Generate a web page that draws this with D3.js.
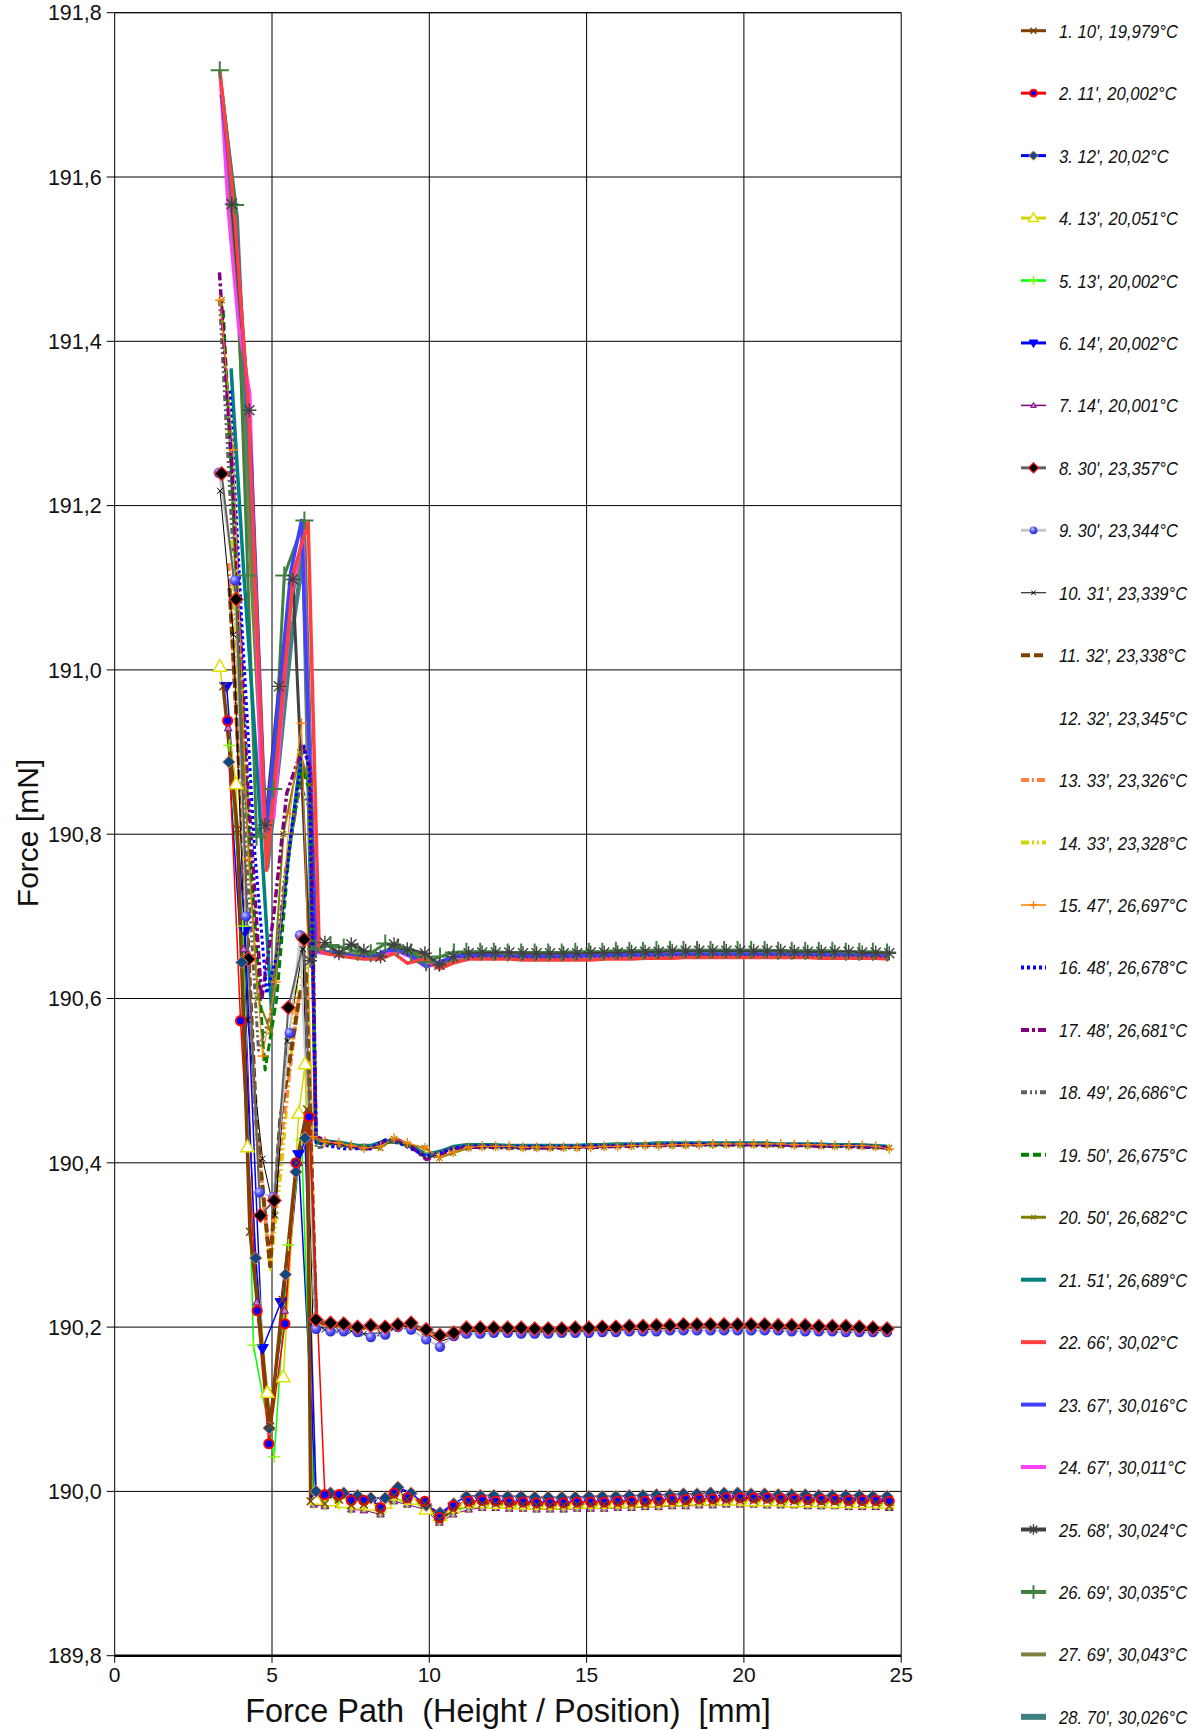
<!DOCTYPE html>
<html>
<head>
<meta charset="utf-8">
<script src="https://cdn.jsdelivr.net/npm/d3@7/dist/d3.min.js"></script>
<style>
html, body { margin: 0; padding: 0; background: #fff; }
svg { display: block; font-family: "Liberation Sans", Arial, sans-serif; }
</style>
</head>
<body>
<svg id="chart" width="1191" height="1730"></svg>
<script>
// ---------- axis ticks ----------
const xTicks = [0, 5, 10, 15, 20, 25];
const xTickLabels = ["0", "5", "10", "15", "20", "25"];
const yTicks = [189.8, 190.0, 190.2, 190.4, 190.6, 190.8, 191.0, 191.2, 191.4, 191.6, 191.8];
const yTickLabels = ["189,8", "190,0", "190,2", "190,4", "190,6", "190,8", "191,0", "191,2", "191,4", "191,6", "191,8"];

// ---------- run names ----------
const runLabels = [
  "1. 10', 19,979°C", "2. 11', 20,002°C", "3. 12', 20,02°C", "4. 13', 20,051°C",
  "5. 13', 20,002°C", "6. 14', 20,002°C", "7. 14', 20,001°C", "8. 30', 23,357°C",
  "9. 30', 23,344°C", "10. 31', 23,339°C", "11. 32', 23,338°C", "12. 32', 23,345°C",
  "13. 33', 23,326°C", "14. 33', 23,328°C", "15. 47', 26,697°C", "16. 48', 26,678°C",
  "17. 48', 26,681°C", "18. 49', 26,686°C", "19. 50', 26,675°C", "20. 50', 26,682°C",
  "21. 51', 26,689°C", "22. 66', 30,02°C", "23. 67', 30,016°C", "24. 67', 30,011°C",
  "25. 68', 30,024°C", "26. 69', 30,035°C", "27. 69', 30,043°C", "28. 70', 30,026°C"
];

// ---------- sampling positions on the flat part (mm) ----------
const posA = [6.68,7.13,7.52,7.92,8.45,8.88,9.30,9.86,10.32,10.76,11.25,11.68,12.11,12.54,12.98,13.41,13.84,14.27,14.70,15.13,15.56,15.99,16.43,16.86,17.29,17.72,18.15,18.58,19.01,19.44,19.88,20.31,20.74,21.17,21.60,22.03,22.46,22.89,23.33,23.76,24.19,24.62];
const posB = [6.40,6.86,7.28,7.72,8.14,8.60,9.00,9.42,9.90,10.34,10.78,11.18,11.62,12.05,12.49,12.92,13.35,13.78,14.21,14.64,15.07,15.50,15.93,16.36,16.79,17.22,17.65,18.08,18.51,18.94,19.37,19.80,20.23,20.66,21.09,21.52,21.95,22.38,22.81,23.24,23.67,24.10,24.55];

// ---------- run 1-7 (≈20 °C) ----------
const r01x = [3.45,3.90,4.30,4.94,5.34,5.78,6.12,6.23];
const r01y = [190.98,190.806,190.316,190.079,190.233,190.40,190.465,189.988];
const r01f = [189.985,189.99,189.983,189.984,189.976,189.995,189.99,189.985,189.966,189.978,189.985,189.985,189.985,189.984,189.984,189.983,189.983,189.983,189.984,189.984,189.984,189.985,189.985,189.985,189.986,189.987,189.987,189.988,189.988,189.989,189.989,189.989,189.989,189.988,189.988,189.987,189.987,189.987,189.986,189.986,189.986,189.982];

const r02x = [3.59,4.00,4.53,4.90,5.41,5.76,6.18];
const r02y = [190.938,190.573,190.22,190.058,190.204,190.40,190.456];
const r02f = [189.996,189.996,189.989,189.989,189.980,189.998,189.992,189.988,189.968,189.982,189.988,189.989,189.988,189.987,189.987,189.986,189.986,189.986,189.987,189.987,189.987,189.988,189.988,189.988,189.989,189.990,189.990,189.991,189.991,189.992,189.992,189.992,189.992,189.991,189.991,189.990,189.990,189.990,189.989,189.989,189.989,189.988];

const r03x = [3.63,4.04,4.48,4.91,5.43,5.76,6.05];
const r03y = [190.888,190.644,190.284,190.077,190.264,190.389,190.43];
const r03f = [190.000,189.998,189.998,189.995,189.992,189.992,190.005,189.998,189.983,189.974,189.985,189.994,189.995,189.995,189.994,189.994,189.993,189.993,189.993,189.993,189.994,189.994,189.994,189.995,189.995,189.996,189.996,189.997,189.997,189.998,189.998,189.998,189.997,189.997,189.996,189.996,189.996,189.995,189.995,189.995,189.995,189.994,189.994];

const r04x = [3.34,3.86,4.22,4.85,5.36,5.85,6.05];
const r04y = [191.004,190.861,190.419,190.12,190.139,190.46,190.52];
const r04f = [189.99,189.988,189.986,189.984,189.983,189.985,189.995,189.99,189.978,189.97,189.98,189.986,189.986,189.985,189.985,189.984,189.984,189.984,189.984,189.985,189.985,189.985,189.986,189.986,189.987,189.987,189.988,189.988,189.989,189.989,189.989,189.989,189.988,189.988,189.988,189.987,189.987,189.987,189.986,189.986,189.986,189.986,189.985];

const r05x = [3.64,4.07,4.41,5.07,5.52,5.94,6.32];
const r05y = [190.908,190.688,190.178,190.042,190.30,190.428,189.986];
const r05f = [189.984,189.985,189.98,189.982,189.975,189.99,189.987,189.982,189.965,189.975,189.982,189.983,189.983,189.982,189.982,189.981,189.981,189.981,189.982,189.982,189.982,189.983,189.983,189.984,189.984,189.985,189.985,189.986,189.986,189.987,189.987,189.987,189.986,189.986,189.986,189.985,189.985,189.985,189.984,189.984,189.984,189.983];

const r06x = [3.56,4.14,4.70,5.28,5.84];
const r06y = [190.98,190.682,190.174,190.23,190.41];
const r06f = [189.99,189.992,189.99,189.987,189.985,189.986,189.998,189.993,189.98,189.972,189.982,189.988,189.989,189.989,189.988,189.988,189.987,189.987,189.987,189.987,189.988,189.988,189.988,189.989,189.989,189.99,189.99,189.991,189.991,189.991,189.991,189.991,189.991,189.99,189.99,189.99,189.989,189.989,189.989,189.988,189.988,189.988,189.987];

const r07x = [3.61,4.10,4.51,4.90,5.40,5.85,6.15,6.33];
const r07y = [190.929,190.66,190.23,190.08,190.22,190.40,190.43,189.984];
const r07f = [189.982,189.984,189.978,189.977,189.972,189.988,189.984,189.978,189.962,189.972,189.978,189.98,189.98,189.979,189.979,189.978,189.978,189.978,189.979,189.979,189.979,189.98,189.98,189.981,189.981,189.982,189.982,189.983,189.983,189.984,189.984,189.984,189.983,189.983,189.983,189.982,189.982,189.982,189.981,189.981,189.981,189.98];

// ---------- run 8-14 (≈23,3 °C) ----------
const r08x = [3.40,3.86,4.25,4.63,5.07,5.52,6.02];
const r08y = [191.239,191.086,190.648,190.336,190.354,190.589,190.672];
const r08f = [190.209,190.205,190.204,190.200,190.202,190.200,190.203,190.205,190.197,190.190,190.193,190.199,190.199,190.199,190.199,190.199,190.198,190.198,190.198,190.199,190.199,190.200,190.200,190.201,190.201,190.202,190.202,190.203,190.203,190.203,190.203,190.203,190.203,190.203,190.202,190.202,190.202,190.201,190.201,190.201,190.200,190.199,190.198];

const r09x = [3.31,3.82,4.17,4.60,5.04,5.56,5.89];
const r09y = [191.24,191.109,190.70,190.364,190.358,190.558,190.677];
const r09f = [190.198,190.195,190.195,190.194,190.188,190.191,190.200,190.197,190.185,190.176,190.189,190.192,190.192,190.193,190.193,190.192,190.192,190.192,190.193,190.193,190.193,190.194,190.194,190.195,190.195,190.195,190.196,190.196,190.196,190.196,190.196,190.196,190.196,190.196,190.196,190.195,190.195,190.195,190.195,190.194,190.194,190.194,190.194];

const r10x = [3.35,3.77,4.22,4.70,5.10,5.49,5.98,6.30];
const r10y = [191.218,191.043,190.574,190.405,190.336,190.548,190.66,190.205];
const r10f = [190.197,190.196,190.195,190.192,190.193,190.199,190.201,190.194,190.182,190.188,190.194,190.195,190.195,190.195,190.194,190.194,190.194,190.194,190.195,190.195,190.196,190.196,190.197,190.197,190.198,190.198,190.199,190.199,190.199,190.199,190.199,190.199,190.199,190.198,190.198,190.198,190.197,190.197,190.197,190.196,190.196,190.195];

const r11x = [3.65,4.10,4.50,4.94,5.26,5.89,6.08];
const r11y = [191.10,190.78,190.45,190.274,190.452,190.606,190.63];
const r11f = [190.207,190.203,190.202,190.199,190.200,190.199,190.202,190.203,190.195,190.189,190.192,190.197,190.198,190.198,190.198,190.197,190.197,190.197,190.197,190.198,190.198,190.199,190.199,190.200,190.200,190.201,190.201,190.201,190.202,190.202,190.202,190.202,190.202,190.201,190.201,190.201,190.200,190.200,190.200,190.199,190.199,190.198,190.197];

// run 12 leaves no visible trace
const r12x = [];
const r12y = [];
const r12f = [];

const r13x = [3.62,4.05,4.45,4.92,5.30,5.85,6.10];
const r13y = [191.13,190.80,190.47,190.28,190.43,190.60,190.62];
const r13f = [190.205,190.202,190.201,190.198,190.199,190.198,190.201,190.202,190.194,190.188,190.191,190.196,190.197,190.197,190.197,190.196,190.196,190.196,190.196,190.197,190.197,190.198,190.198,190.199,190.199,190.200,190.200,190.200,190.201,190.201,190.201,190.201,190.201,190.200,190.200,190.200,190.199,190.199,190.199,190.198,190.198,190.197,190.196];

const r14x = [3.72,4.12,4.52,4.95,5.32,5.80,6.12];
const r14y = [191.158,190.74,190.42,190.27,190.40,190.62,190.64];
const r14f = [190.204,190.201,190.200,190.197,190.198,190.197,190.200,190.201,190.193,190.187,190.190,190.195,190.196,190.196,190.196,190.195,190.195,190.195,190.195,190.196,190.196,190.197,190.197,190.198,190.198,190.199,190.199,190.199,190.200,190.200,190.200,190.200,190.200,190.199,190.199,190.199,190.198,190.198,190.198,190.197,190.197,190.196,190.195];

// ---------- run 15-21 (≈26,7 °C) ----------
const r15x = [3.35,3.77,4.25,4.70,5.12,5.57,5.94,6.30];
const r15y = [191.45,191.268,190.77,190.53,190.62,190.825,190.935,190.432];
const r15f = [190.426,190.424,190.421,190.418,190.420,190.430,190.424,190.418,190.407,190.413,190.419,190.420,190.420,190.420,190.419,190.419,190.419,190.419,190.419,190.419,190.420,190.420,190.421,190.421,190.421,190.422,190.422,190.422,190.423,190.423,190.423,190.423,190.423,190.423,190.422,190.422,190.422,190.421,190.421,190.421,190.420,190.417];

const r16x = [3.66,4.05,4.45,4.83,5.20,5.60,6.00,6.18];
const r16y = [191.34,191.05,190.78,190.606,190.66,190.80,190.91,190.88];
const r16f = [190.425,190.42,190.417,190.417,190.418,190.428,190.425,190.417,190.408,190.412,190.418,190.42,190.421,190.421,190.42,190.42,190.42,190.42,190.42,190.42,190.421,190.421,190.421,190.422,190.422,190.422,190.423,190.423,190.423,190.423,190.423,190.423,190.423,190.423,190.422,190.422,190.422,190.422,190.421,190.421,190.421,190.42,190.419];

const r17x = [3.33,3.80,4.20,4.67,5.05,5.47,5.98,6.22];
const r17y = [191.484,191.20,190.88,190.598,190.70,190.85,190.907,190.88];
const r17f = [190.432,190.425,190.422,190.418,190.417,190.427,190.428,190.420,190.404,190.410,190.417,190.419,190.419,190.419,190.418,190.418,190.418,190.418,190.418,190.419,190.419,190.419,190.420,190.420,190.421,190.421,190.421,190.422,190.422,190.422,190.422,190.422,190.422,190.421,190.421,190.421,190.421,190.420,190.420,190.420,190.419,190.419,190.418];

const r18x = [3.33,3.75,4.15,4.57,4.95,5.40,5.90,6.20];
const r18y = [191.45,191.15,190.80,190.537,190.58,190.75,190.86,190.83];
const r18f = [190.418,190.421,190.420,190.419,190.419,190.426,190.424,190.418,190.409,190.414,190.419,190.420,190.420,190.420,190.420,190.419,190.419,190.419,190.419,190.420,190.420,190.420,190.421,190.421,190.421,190.422,190.422,190.422,190.422,190.422,190.422,190.422,190.422,190.422,190.421,190.421,190.421,190.421,190.420,190.420,190.420,190.419,190.419];

const r19x = [3.45,3.90,4.30,4.78,5.15,5.55,5.95,6.22];
const r19y = [191.438,191.10,190.78,190.513,190.60,190.78,190.88,190.85];
const r19f = [190.424,190.423,190.421,190.419,190.418,190.425,190.425,190.419,190.406,190.411,190.418,190.420,190.420,190.420,190.419,190.419,190.419,190.419,190.419,190.419,190.420,190.420,190.421,190.421,190.421,190.422,190.422,190.422,190.422,190.422,190.422,190.422,190.422,190.422,190.421,190.421,190.421,190.421,190.420,190.420,190.420,190.419,190.418];

const r20x = [3.40,3.64,4.10,4.55,4.95,5.36,5.89,6.20,6.36];
const r20y = [191.45,191.29,190.88,190.60,190.56,190.80,190.90,190.86,190.43];
const r20f = [190.425,190.423,190.42,190.418,190.418,190.429,190.423,190.418,190.406,190.412,190.418,190.419,190.419,190.419,190.418,190.418,190.418,190.418,190.418,190.419,190.419,190.42,190.42,190.421,190.421,190.421,190.421,190.422,190.422,190.422,190.422,190.422,190.422,190.421,190.421,190.421,190.42,190.42,190.42,190.42,190.419,190.418];

const r21x = [3.70,4.10,4.51,4.99,5.45,5.90,6.20];
const r21y = [191.367,191.12,190.89,190.582,190.75,190.89,190.86];
const r21f = [190.428,190.426,190.424,190.421,190.421,190.427,190.426,190.421,190.410,190.414,190.420,190.422,190.422,190.422,190.421,190.421,190.421,190.421,190.421,190.421,190.422,190.422,190.423,190.423,190.423,190.424,190.424,190.424,190.424,190.424,190.424,190.424,190.424,190.424,190.423,190.423,190.423,190.423,190.422,190.422,190.422,190.421,190.420];

// ---------- run 22-28 (≈30 °C) ----------
const r22x = [3.34,3.80,4.25,4.83,5.25,5.68,6.15,6.50];
const r22y = [191.73,191.56,191.32,190.756,190.93,191.118,191.18,190.66];
const r22f = [190.655,190.652,190.650,190.648,190.648,190.655,190.643,190.648,190.636,190.643,190.648,190.648,190.648,190.648,190.647,190.647,190.647,190.647,190.647,190.647,190.648,190.648,190.648,190.649,190.649,190.649,190.650,190.650,190.650,190.650,190.650,190.650,190.650,190.650,190.650,190.650,190.649,190.649,190.649,190.649,190.649,190.648];

const r23x = [3.40,3.88,4.35,4.80,5.25,5.60,5.94];
const r23y = [191.70,191.523,191.25,190.80,190.98,191.12,191.182];
const r23f = [190.658,190.656,190.654,190.651,190.650,190.658,190.659,190.652,190.639,190.645,190.651,190.652,190.652,190.652,190.651,190.651,190.651,190.651,190.651,190.652,190.652,190.652,190.653,190.653,190.653,190.653,190.654,190.654,190.654,190.654,190.654,190.654,190.654,190.654,190.654,190.653,190.653,190.653,190.653,190.653,190.652,190.652,190.651];

const r24x = [3.34,3.61,3.93,4.30,4.67,5.06,5.62,5.99];
const r24y = [191.73,191.556,191.42,191.337,190.82,190.82,191.09,191.168];
const r24f = [190.656,190.654,190.652,190.650,190.649,190.656,190.657,190.650,190.638,190.644,190.650,190.651,190.651,190.650,190.650,190.650,190.650,190.650,190.650,190.650,190.651,190.651,190.651,190.652,190.652,190.652,190.652,190.653,190.653,190.653,190.653,190.653,190.653,190.653,190.652,190.652,190.652,190.652,190.651,190.651,190.651,190.650,190.649];

const r25x = [3.72,4.28,4.78,5.22,5.66,6.21];
const r25y = [191.567,191.316,190.811,190.98,191.11,190.646];
const r25f = [190.668,190.655,190.666,190.658,190.651,190.666,190.660,190.655,190.641,190.651,190.655,190.656,190.656,190.656,190.655,190.655,190.655,190.655,190.655,190.656,190.656,190.656,190.657,190.657,190.657,190.658,190.658,190.658,190.658,190.658,190.658,190.658,190.658,190.658,190.657,190.657,190.657,190.657,190.657,190.656,190.656,190.655];

const r26x = [3.34,3.83,4.23,4.51,5.04,5.39,6.03];
const r26y = [191.73,191.566,191.115,190.797,190.855,191.115,191.182];
const r26f = [190.660,190.665,190.662,190.657,190.655,190.667,190.662,190.656,190.644,190.651,190.656,190.657,190.657,190.657,190.656,190.656,190.656,190.656,190.656,190.657,190.657,190.657,190.658,190.658,190.658,190.659,190.659,190.659,190.659,190.659,190.659,190.659,190.659,190.659,190.658,190.658,190.658,190.658,190.658,190.657,190.657,190.657,190.656];

const r27x = [3.50,3.90,4.35,4.80,5.20,5.60,5.98,6.30];
const r27y = [191.65,191.45,191.10,190.78,190.93,191.08,191.15,190.662];
const r27f = [190.657,190.657,190.654,190.652,190.651,190.660,190.656,190.652,190.640,190.647,190.652,190.653,190.653,190.653,190.652,190.652,190.652,190.652,190.652,190.653,190.653,190.653,190.654,190.654,190.654,190.654,190.655,190.655,190.655,190.655,190.655,190.655,190.655,190.655,190.654,190.654,190.654,190.654,190.653,190.653,190.653,190.652];

const r28x = [3.40,3.88,4.35,4.85,5.25,5.65,6.00,6.28];
const r28y = [191.70,191.55,191.15,190.76,190.90,191.05,191.14,190.66];
const r28f = [190.656,190.656,190.653,190.651,190.650,190.659,190.655,190.651,190.639,190.646,190.651,190.652,190.652,190.652,190.651,190.651,190.651,190.651,190.651,190.652,190.652,190.652,190.653,190.653,190.653,190.653,190.654,190.654,190.654,190.654,190.654,190.654,190.654,190.654,190.653,190.653,190.653,190.653,190.652,190.652,190.652,190.651];

// ---------- table assembled from the arrays above ----------
const startX = [r01x,r02x,r03x,r04x,r05x,r06x,r07x,r08x,r09x,r10x,r11x,r12x,r13x,r14x,r15x,r16x,r17x,r18x,r19x,r20x,r21x,r22x,r23x,r24x,r25x,r26x,r27x,r28x];
const startY = [r01y,r02y,r03y,r04y,r05y,r06y,r07y,r08y,r09y,r10y,r11y,r12y,r13y,r14y,r15y,r16y,r17y,r18y,r19y,r20y,r21y,r22y,r23y,r24y,r25y,r26y,r27y,r28y];
const flatF  = [r01f,r02f,r03f,r04f,r05f,r06f,r07f,r08f,r09f,r10f,r11f,r12f,r13f,r14f,r15f,r16f,r17f,r18f,r19f,r20f,r21f,r22f,r23f,r24f,r25f,r26f,r27f,r28f];
const flatPos = [posA,posA,posB,posB,posA,posB,posA,posB,posB,posA,posB,posB,posB,posB,posA,posB,posB,posB,posB,posA,posB,posA,posB,posB,posA,posB,posA,posA];

// line / marker appearance per run
const runStyles = [
  {c:'#804000', w:3.5, lw:3,   dash:null,            mk:'cross',   ms:4,   mf:'none',    mc:'#804000', msw:1.4},
  {c:'#ff0000', w:1.5, lw:3,   dash:null,            mk:'circle',  ms:4.6, mf:'#0000ff', mc:'#ff0000', msw:2},
  {c:'#0000ff', w:1.5, lw:3,   dash:null,            mk:'diamond', ms:6.2, mf:'#0c4a86', mc:'#ff8040', msw:1},
  {c:'#d4d400', w:1.5, lw:3,   dash:null,            mk:'tri',     ms:7,   mf:'#ffffff', mc:'#e0e000', msw:1.5},
  {c:'#00ff00', w:1.5, lw:2.5, dash:null,            mk:'plus',    ms:6,   mf:'none',    mc:'#80ff00', msw:1.4},
  {c:'#0000ff', w:1.5, lw:3,   dash:null,            mk:'tridown', ms:6,   mf:'#0000ff', mc:'#0000ff', msw:1},
  {c:'#800080', w:1,   lw:1.5, dash:null,            mk:'tri',     ms:4,   mf:'#c080c0', mc:'#800080', msw:1},
  {c:'#606060', w:2,   lw:3,   dash:null,            mk:'diamond', ms:7,   mf:'#000000', mc:'#ff3030', msw:1.2},
  {c:'#c8c8c8', w:2,   lw:3,   dash:null,            mk:'sphere',  ms:5.2, mf:'url(#sphere)', mc:'none', msw:0},
  {c:'#000000', w:1,   lw:1,   dash:null,            mk:'cross',   ms:3,   mf:'none',    mc:'#000000', msw:1},
  {c:'#804000', w:4,   lw:4,   dash:'9,4',           mk:null},
  {c:'none',    w:0,   lw:0,   dash:null,            mk:null},
  {c:'#ff8040', w:3.5, lw:4,   dash:'8,3,2,3',       mk:null},
  {c:'#d4d400', w:3,   lw:4,   dash:'8,3,2,3,2,3',   mk:null},
  {c:'#ff8000', w:1,   lw:1.5, dash:null,            mk:'plus',    ms:5,   mf:'none',    mc:'#ff8000', msw:1.4},
  {c:'#0000ff', w:3,   lw:4,   dash:'3,3',           mk:null},
  {c:'#800080', w:3.5, lw:4,   dash:'8,3,3,3',       mk:null},
  {c:'#606060', w:3,   lw:4,   dash:'6,3,2,3,2,3',   mk:null},
  {c:'#008000', w:3,   lw:4,   dash:'8,4',           mk:null},
  {c:'#808000', w:2,   lw:3,   dash:null,            mk:'cross',   ms:3,   mf:'none',    mc:'#808000', msw:1.2},
  {c:'#008080', w:3.5, lw:4,   dash:null,            mk:null},
  {c:'#ff4040', w:3.5, lw:4,   dash:null,            mk:null},
  {c:'#4040ff', w:3.5, lw:4,   dash:null,            mk:null},
  {c:'#ff40ff', w:3,   lw:4,   dash:null,            mk:null},
  {c:'#404040', w:3,   lw:4,   dash:null,            mk:'star',    ms:7,   mf:'none',    mc:'#404040', msw:1.4},
  {c:'#408040', w:3,   lw:4,   dash:null,            mk:'plus',    ms:9,   mf:'none',    mc:'#408040', msw:2},
  {c:'#808040', w:3,   lw:4,   dash:null,            mk:null},
  {c:'#408080', w:4.5, lw:6,   dash:null,            mk:null}
];

const runs = runLabels.map((label, i) => ({
  label,
  pts: d3.zip(startX[i].concat(startX[i].length ? flatPos[i] : []), startY[i].concat(flatF[i])),
  ...runStyles[i]
}));

// ---------- drawing ----------
const svg = d3.select('#chart');
const x = d3.scaleLinear().domain([0, 25]).range([114.7, 901.2]);
const y = d3.scaleLinear().domain([189.8, 191.8]).range([1655.7, 12.7]);
const [xL, xR] = x.range();
const [yB, yT] = y.range();

const defs = svg.append('defs');
const grad = defs.append('radialGradient').attr('id', 'sphere')
  .attr('cx', '38%').attr('cy', '35%').attr('r', '65%');
grad.append('stop').attr('offset', '0%').attr('stop-color', '#d0d0ff');
grad.append('stop').attr('offset', '45%').attr('stop-color', '#6060ff');
grad.append('stop').attr('offset', '100%').attr('stop-color', '#2828d0');

// grid
svg.append('g').attr('transform', `translate(0,${yB})`)
  .call(d3.axisBottom(x).tickValues(xTicks.slice(1, -1)).tickSize(-(yB - yT)).tickFormat('').offset(0))
  .call(g => g.select('.domain').remove())
  .call(g => g.selectAll('line').attr('stroke', '#000').attr('stroke-width', 1));
svg.append('g').attr('transform', `translate(${xL},0)`)
  .call(d3.axisLeft(y).tickValues(yTicks.slice(1)).tickSize(-(xR - xL)).tickFormat('').offset(0))
  .call(g => g.select('.domain').remove())
  .call(g => g.selectAll('line').attr('stroke', '#000').attr('stroke-width', 1));

// frame
svg.append('line').attr('x1', xL).attr('x2', xR).attr('y1', yT).attr('y2', yT).attr('stroke', '#000');
svg.append('line').attr('x1', xR).attr('x2', xR).attr('y1', yT).attr('y2', yB).attr('stroke', '#000');

// axes with labels
const yAxis = svg.append('g').attr('transform', `translate(${xL},0)`)
  .call(d3.axisLeft(y).tickValues(yTicks).tickFormat((d, i) => yTickLabels[i])
    .tickSizeInner(8).tickSizeOuter(0).tickPadding(5).offset(0));
yAxis.selectAll('text').attr('font-size', 21.5).attr('font-family', '"Liberation Sans", Arial, sans-serif')
  .attr('fill', '#111').attr('dy', '0.36em');
yAxis.selectAll('line, path').attr('stroke', '#000');

const xAxis = svg.append('g').attr('transform', `translate(0,${yB})`)
  .call(d3.axisBottom(x).tickValues(xTicks).tickFormat((d, i) => xTickLabels[i])
    .tickSizeInner(7).tickSizeOuter(0).tickPadding(4).offset(0));
xAxis.selectAll('text').attr('font-size', 21).attr('font-family', '"Liberation Sans", Arial, sans-serif')
  .attr('fill', '#111');
xAxis.selectAll('line').attr('stroke', '#000');
xAxis.select('.domain').attr('stroke', '#000').attr('stroke-width', 2.5);

// axis titles
svg.append('text').attr('x', (xL + xR) / 2).attr('y', 1721.5).attr('text-anchor', 'middle')
  .attr('font-size', 32.5).attr('fill', '#111').style('white-space', 'pre')
  .text('Force Path  (Height / Position)  [mm]');
svg.append('text').attr('transform', `translate(38,833) rotate(-90)`).attr('text-anchor', 'middle')
  .attr('font-size', 30).attr('fill', '#111')
  .text('Force [mN]');

// marker shapes
function markerPath(t, s) {
  const d = s * 0.72;
  switch (t) {
    case 'plus': return `M${-s},0H${s}M0,${-s}V${s}`;
    case 'cross': return `M${-s},${-s}L${s},${s}M${-s},${s}L${s},${-s}`;
    case 'star': return `M${-s},0H${s}M0,${-s}V${s}M${-d},${-d}L${d},${d}M${-d},${d}L${d},${-d}`;
    case 'diamond': return `M0,${-s}L${s},0L0,${s}L${-s},0Z`;
    case 'tri': return `M0,${-s}L${s * 0.95},${s * 0.65}L${-s * 0.95},${s * 0.65}Z`;
    case 'tridown': return `M0,${s}L${s * 0.95},${-s * 0.65}L${-s * 0.95},${-s * 0.65}Z`;
  }
  return '';
}
function drawMarker(sel, r, cx, cy, scale) {
  const s = r.ms * scale;
  if (r.mk === 'circle' || r.mk === 'sphere') {
    sel.append('circle').attr('cx', cx).attr('cy', cy).attr('r', s)
      .attr('fill', r.mf).attr('stroke', r.mc).attr('stroke-width', r.msw);
  } else {
    sel.append('path').attr('transform', `translate(${cx},${cy})`).attr('d', markerPath(r.mk, s))
      .attr('fill', r.mf).attr('stroke', r.mc).attr('stroke-width', r.msw);
  }
}

const line = d3.line().x(d => x(d[0])).y(d => y(d[1]));
const drawOrder = runs.slice().reverse();   // later runs lie underneath earlier ones
const linesG = svg.append('g');
const marksG = svg.append('g');
drawOrder.forEach(r => {
  if (!r.pts.length) return;
  linesG.append('path').datum(r.pts).attr('d', line)
    .attr('fill', 'none').attr('stroke', r.c).attr('stroke-width', r.w)
    .attr('stroke-dasharray', r.dash).attr('stroke-linejoin', 'round');
});
drawOrder.forEach(r => {
  if (!r.mk) return;
  const g = marksG.append('g');
  r.pts.forEach(p => drawMarker(g, r, x(p[0]), y(p[1]), 1));
});

// legend
const lg = svg.append('g');
runs.forEach((r, i) => {
  const ly = 30.7 + i * 62.45;
  if (r.lw > 0) {
    lg.append('line').attr('x1', 1021).attr('x2', 1046).attr('y1', ly).attr('y2', ly)
      .attr('stroke', r.c).attr('stroke-width', r.lw).attr('stroke-dasharray', r.dash);
  }
  if (r.mk) drawMarker(lg, r, 1033.5, ly, 0.75);
  lg.append('text').attr('transform', `translate(1059,${ly + 7}) scale(0.9,1)`)
    .attr('font-size', 18.5).attr('font-style', 'italic').attr('fill', '#111')
    .text(r.label);
});
</script>
</body>
</html>
